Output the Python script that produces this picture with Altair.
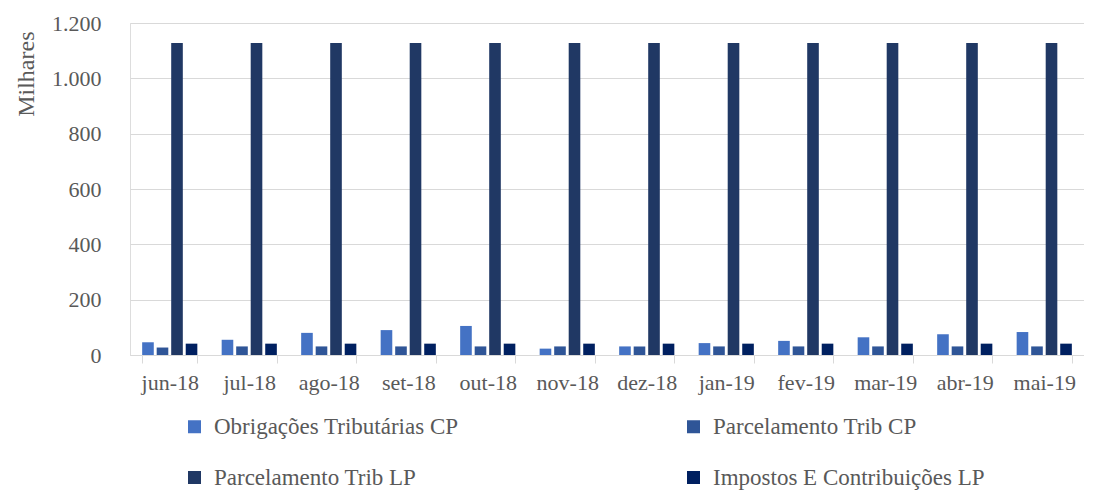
import altair as alt
import pandas as pd

months = ["jun-18", "jul-18", "ago-18", "set-18", "out-18", "nov-18",
          "dez-18", "jan-19", "fev-19", "mar-19", "abr-19", "mai-19"]
series = ["Obrigações Tributárias CP", "Parcelamento Trib CP",
          "Parcelamento Trib LP", "Impostos E Contribuições LP"]
obrig_cp = [46, 55, 80, 90, 105, 23, 31, 43, 51, 64, 75, 83]
parc_cp = [27, 31, 31, 31, 31, 31, 31, 31, 31, 31, 31, 31]
parc_lp = [1128, 1128, 1128, 1128, 1128, 1128, 1128, 1128, 1128, 1128, 1128, 1128]
impostos_lp = [41, 41, 41, 41, 41, 41, 41, 41, 41, 41, 41, 41]
colors = ["#4472C4", "#2F5597", "#203864", "#002060"]

rows = []
for s, vals in zip(series, [obrig_cp, parc_cp, parc_lp, impostos_lp]):
    for m, v in zip(months, vals):
        rows.append({"mes": m, "serie": s, "valor": v})
df = pd.DataFrame(rows)

# legend is laid out column by column: order so rows read like the reference
legend_order = [series[0], series[2], series[1], series[3]]
legend_colors = [colors[0], colors[2], colors[1], colors[3]]

FONT = "Liberation Serif"
GREY = "#595959"
GRID = "#D9D9D9"

chart = alt.Chart(df).mark_bar().encode(
    x=alt.X("mes:N", sort=months,
            scale=alt.Scale(paddingInner=0.306, paddingOuter=0.153),
            axis=alt.Axis(title=None, labelAngle=0, labelFont=FONT, labelFontSize=22,
                          labelColor=GREY, tickBand="extent", tickSize=8,
                          tickColor=GRID, domainColor=GRID, labelPadding=9,
                          grid=False)),
    xOffset=alt.XOffset("serie:N", sort=series,
                        scale=alt.Scale(paddingInner=0.2, paddingOuter=0)),
    y=alt.Y("valor:Q", scale=alt.Scale(domain=[0, 1200]),
            axis=alt.Axis(title="Milhares", values=[0, 200, 400, 600, 800, 1000, 1200],
                          labelExpr="replace(format(datum.value, ',d'), ',', '.')",
                          labelFont=FONT, labelFontSize=22, labelColor=GREY,
                          titleFont=FONT, titleFontSize=24, titleColor=GREY,
                          titleFontWeight="normal", titleAnchor="end", titleY=8,
                          titlePadding=13, labelPadding=29,
                          domain=False, ticks=False, gridColor=GRID)),
    color=alt.Color("serie:N",
                    scale=alt.Scale(domain=legend_order, range=legend_colors),
                    legend=alt.Legend(title=None, orient="none", legendX=53, legendY=392,
                                      columns=2, columnPadding=223, rowPadding=27,
                                      symbolType="square", symbolSize=169,
                                      symbolStrokeWidth=0, labelFont=FONT,
                                      labelFontSize=23, labelColor=GREY,
                                      labelOffset=8, labelLimit=400)),
).properties(
    width=954, height=332,
    padding={"left": 6, "top": 4, "right": 0, "bottom": 0},
).configure_view(stroke=None).configure(background="white")

chart.save("out.html", embed_options={"renderer": "svg", "actions": False})
